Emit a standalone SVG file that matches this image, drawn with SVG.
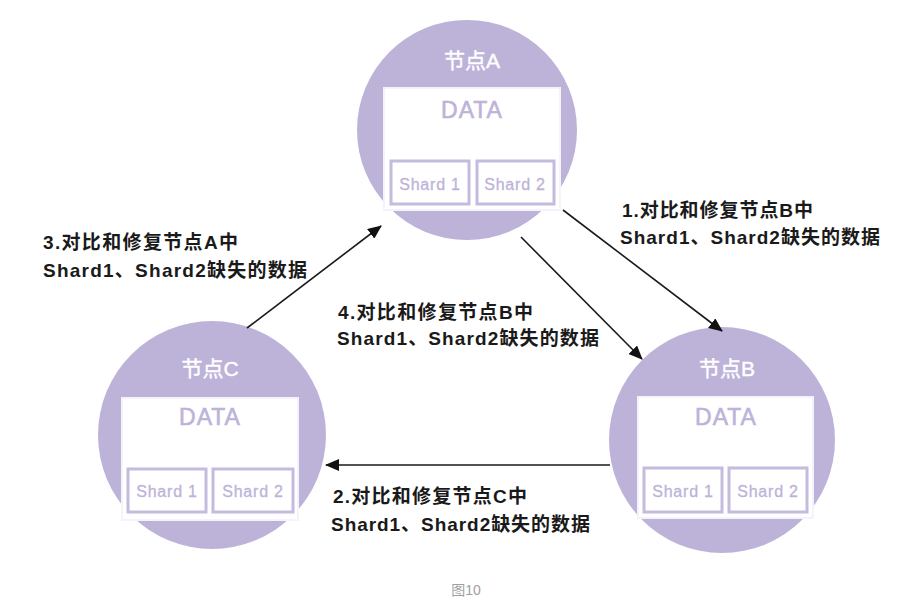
<svg xmlns="http://www.w3.org/2000/svg" width="908" height="615" viewBox="0 0 908 615">
<defs>
<marker id="ah" viewBox="0 0 14 12" refX="13" refY="6" markerWidth="14" markerHeight="12" markerUnits="userSpaceOnUse" orient="auto">
<path d="M0,0 L14,6 L0,12 Z" fill="#111"/>
</marker>
<style>
.circ{fill:#bdb3d9}
.box{fill:#fff;stroke:#f4f2fa;stroke-width:2}
.shard{fill:#fff;stroke:#c4bbdf;stroke-width:3}
.title{font-family:"Liberation Sans","Noto Sans CJK SC",sans-serif;font-size:21px;fill:#fff;text-anchor:middle;stroke:#fff;stroke-width:0.4}
.data{font-family:"Liberation Sans",sans-serif;font-size:23px;fill:#bdb3d9;text-anchor:middle;letter-spacing:1px;stroke:#bdb3d9;stroke-width:0.6}
.st{font-family:"Liberation Sans",sans-serif;font-size:16px;fill:#bdb3d9;text-anchor:middle;letter-spacing:0.8px;stroke:#bdb3d9;stroke-width:0.3}
.lbl{font-family:"Liberation Sans","Noto Sans CJK SC",sans-serif;font-size:19px;font-weight:bold;fill:#1a1a1a}
.cap{font-family:"Liberation Sans","Noto Sans CJK SC",sans-serif;font-size:14px;fill:#a0a0a0;text-anchor:middle}
.conn{stroke:#1a1a1a;stroke-width:1.6;fill:none;marker-end:url(#ah)}
</style>
</defs>
<rect width="908" height="615" fill="#fff"/>

<g id="nodeA">
<circle class="circ" cx="467" cy="130" r="110"/>
<rect class="box" x="384" y="88" width="176" height="122"/>
<rect class="shard" x="391" y="161" width="78" height="43"/>
<rect class="shard" x="477" y="161" width="77" height="43"/>
<text class="title" x="472" y="68">节点A</text>
<text class="data" x="472" y="118">DATA</text>
<text class="st" x="430" y="190">Shard 1</text>
<text class="st" x="515" y="190">Shard 2</text>
</g>

<g id="nodeC">
<circle class="circ" cx="212" cy="435" r="114"/>
<rect class="box" x="122" y="398" width="176" height="122"/>
<rect class="shard" x="128" y="469" width="78" height="43"/>
<rect class="shard" x="213" y="469" width="80" height="43"/>
<text class="title" x="210" y="376">节点C</text>
<text class="data" x="210" y="425">DATA</text>
<text class="st" x="167" y="497">Shard 1</text>
<text class="st" x="253" y="497">Shard 2</text>
</g>

<g id="nodeB">
<circle class="circ" cx="722" cy="440" r="113"/>
<rect class="box" x="638" y="397" width="175" height="121"/>
<rect class="shard" x="644" y="468" width="78" height="44"/>
<rect class="shard" x="729" y="468" width="78" height="44"/>
<text class="title" x="727" y="376">节点B</text>
<text class="data" x="726" y="425">DATA</text>
<text class="st" x="683" y="497">Shard 1</text>
<text class="st" x="768" y="497">Shard 2</text>
</g>

<g id="connectors">
<line class="conn" x1="563" y1="210" x2="722" y2="331"/>
<line class="conn" x1="521" y1="237" x2="642" y2="359"/>
<line class="conn" x1="247" y1="328" x2="381" y2="226"/>
<line class="conn" x1="610" y1="465" x2="326" y2="465"/>
</g>

<g id="labels">
<text class="lbl" x="622" y="217" textLength="191" lengthAdjust="spacing">1.对比和修复节点B中</text>
<text class="lbl" x="620" y="244" textLength="260" lengthAdjust="spacing">Shard1、Shard2缺失的数据</text>
<text class="lbl" x="43" y="249" textLength="195" lengthAdjust="spacing">3.对比和修复节点A中</text>
<text class="lbl" x="43" y="277" textLength="264" lengthAdjust="spacing">Shard1、Shard2缺失的数据</text>
<text class="lbl" x="338" y="319" textLength="195" lengthAdjust="spacing">4.对比和修复节点B中</text>
<text class="lbl" x="337" y="345" textLength="262" lengthAdjust="spacing">Shard1、Shard2缺失的数据</text>
<text class="lbl" x="333" y="503" textLength="194" lengthAdjust="spacing">2.对比和修复节点C中</text>
<text class="lbl" x="331" y="531" textLength="259" lengthAdjust="spacing">Shard1、Shard2缺失的数据</text>
</g>

<text class="cap" x="466" y="595">图10</text>
</svg>
